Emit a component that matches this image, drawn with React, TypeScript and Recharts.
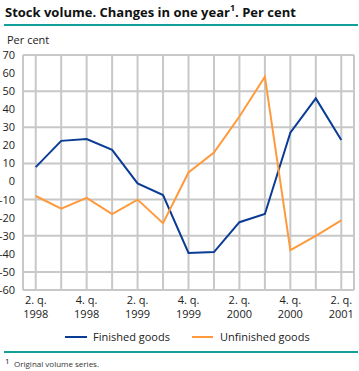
import React from 'react';
import { LineChart, Line, XAxis, YAxis, CartesianGrid } from 'recharts';

const quarters = ['2. q.|1998','3. q.|1998','4. q.|1998','1. q.|1999','2. q.|1999','3. q.|1999','4. q.|1999','1. q.|2000','2. q.|2000','3. q.|2000','4. q.|2000','1. q.|2001','2. q.|2001'];
const finishedGoods = [8, 22.5, 23.5, 17.5, -1, -7.5, -39.5, -39, -22.5, -18, 27, 46, 23];
const unfinishedGoods = [-8, -15, -9, -18, -10, -23, 5, 16, 36, 58, -38, -30, -21.5];
const yTicks = [-60, -50, -40, -30, -20, -10, 0, 10, 20, 30, 40, 50, 60, 70];

const data = quarters.map((q, i) => ({ q, finished: finishedGoods[i], unfinished: unfinishedGoods[i] }));

const FONT = '"Open Sans", "DejaVu Sans", sans-serif';
const BLUE = '#0a3c96';
const ORANGE = '#ff9a3c';
const TEAL = '#12a09a';
const GRID = '#c8c8c8';

const XTick = (props: any) => {
  const { x, y, payload, index } = props;
  const i = typeof index === 'number' ? index : payload.index;
  if (i % 2 !== 0) return <g />;
  const [a, b] = String(payload.value).split('|');
  return (
    <g>
      <text x={x} y={y + 6} textAnchor="middle" fontSize={11} fill="#222" fontFamily={FONT}>{a}</text>
      <text x={x} y={y + 20} textAnchor="middle" fontSize={11} fill="#222" fontFamily={FONT}>{b}</text>
    </g>
  );
};

export default function App() {
  return (
    <div style={{ position: 'relative', width: 359, height: 371, fontFamily: FONT }}>
      <style>{'html,body{margin:0;padding:0;}'}</style>
      <LineChart width={359} height={345} data={data} margin={{ top: 55, right: 5, left: 0, bottom: 10 }}>
        <CartesianGrid stroke={GRID} strokeWidth={2} />
        <XAxis dataKey="q" scale="band" interval={0} tickLine={false} axisLine={{ stroke: GRID, strokeWidth: 2 }} tick={<XTick />} height={45} />
        <YAxis domain={[-60, 70]} ticks={yTicks} width={23} tickLine={false} axisLine={{ stroke: GRID, strokeWidth: 2 }} tick={{ fontSize: 11, fill: '#222', fontFamily: FONT }} />
        <Line type="linear" dataKey="finished" stroke={BLUE} strokeWidth={2} dot={false} isAnimationActive={false} />
        <Line type="linear" dataKey="unfinished" stroke={ORANGE} strokeWidth={2} dot={false} isAnimationActive={false} />
      </LineChart>
      <div style={{ position: 'absolute', left: 5, top: 3, fontSize: 13, fontWeight: 700, color: '#111', whiteSpace: 'nowrap' }}>
        Stock volume. Changes in one year<sup style={{ fontSize: 9, verticalAlign: 'top', position: 'relative', top: -2 }}>1</sup>. Per cent
      </div>
      <div style={{ position: 'absolute', left: 4, top: 24, width: 354, height: 2, background: TEAL }} />
      <div style={{ position: 'absolute', left: 7, top: 32, fontSize: 11, color: '#222' }}>Per cent</div>
      <div style={{ position: 'absolute', left: 65, top: 336, width: 22, height: 2, background: BLUE }} />
      <div style={{ position: 'absolute', left: 93, top: 329, fontSize: 11, color: '#222' }}>Finished goods</div>
      <div style={{ position: 'absolute', left: 192, top: 336, width: 21, height: 2, background: ORANGE }} />
      <div style={{ position: 'absolute', left: 220, top: 329, fontSize: 11, color: '#222' }}>Unfinished goods</div>
      <div style={{ position: 'absolute', left: 4, top: 351, width: 354, height: 2, background: TEAL }} />
      <div style={{ position: 'absolute', left: 5, top: 355, fontSize: 8, color: '#222' }}>1</div>
      <div style={{ position: 'absolute', left: 14, top: 358, fontSize: 8, color: '#333' }}>Original volume series.</div>
    </div>
  );
}
